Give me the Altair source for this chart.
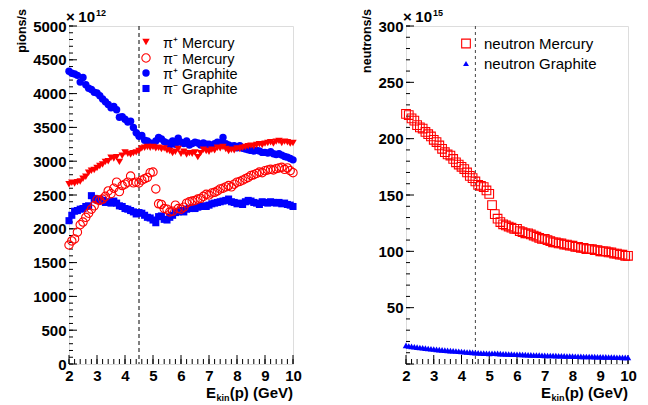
import altair as alt
import pandas as pd

FONT = "Liberation Sans"

# ---------------- data ----------------
E = [2.0, 2.1, 2.2, 2.3, 2.4, 2.5, 2.6, 2.7, 2.8, 2.9,
     3.0, 3.1, 3.2, 3.3, 3.4, 3.5, 3.6, 3.7, 3.8, 3.9,
     4.0, 4.1, 4.2, 4.3, 4.4, 4.5, 4.6, 4.7, 4.8, 4.9,
     5.0, 5.1, 5.2, 5.3, 5.4, 5.5, 5.6, 5.7, 5.8, 5.9,
     6.0, 6.1, 6.2, 6.3, 6.4, 6.5, 6.6, 6.7, 6.8, 6.9,
     7.0, 7.1, 7.2, 7.3, 7.4, 7.5, 7.6, 7.7, 7.8, 7.9,
     8.0, 8.1, 8.2, 8.3, 8.4, 8.5, 8.6, 8.7, 8.8, 8.9,
     9.0, 9.1, 9.2, 9.3, 9.4, 9.5, 9.6, 9.7, 9.8, 9.9,
     10.0]

# pions/s in units of 1e12
pip_mercury = [2660, 2680, 2670, 2690, 2700, 2740, 2770, 2830, 2860, 2870,
               2900, 2930, 2950, 2990, 3000, 3050, 3040, 3060, 2990, 3080,
               3130, 3110, 3100, 3120, 3130, 3150, 3190, 3200, 3210, 3200,
               3210, 3190, 3200, 3180, 3190, 3160, 3150, 3120, 3140, 3180,
               3110, 3140, 3100, 3120, 3110, 3130, 3060, 3120, 3170, 3150,
               3140, 3170, 3160, 3200, 3190, 3210, 3180, 3150, 3170, 3160,
               3190, 3180, 3200, 3210, 3220, 3230, 3220, 3240, 3250, 3240,
               3260, 3270, 3280, 3260, 3290, 3300, 3270, 3290, 3280, 3260,
               3270]
pim_mercury = [1760, 1820, 1850, 1950, 2060, 2100, 2170, 2230, 2290, 2340,
               2430, 2420, 2440, 2480, 2560, 2520, 2600, 2690, 2550, 2640,
               2660, 2690, 2780, 2680, 2690, 2680, 2720, 2740, 2760, 2830,
               2840, 2590, 2370, 2360, 2300, 2290, 2250, 2260, 2350, 2300,
               2290, 2320, 2380, 2400, 2410, 2420, 2440, 2450, 2480, 2510,
               2500, 2530, 2540, 2560, 2590, 2600, 2620, 2640, 2620, 2660,
               2690, 2700, 2720, 2740, 2760, 2790, 2800, 2820, 2840, 2830,
               2860, 2870, 2880, 2870, 2890, 2900, 2910, 2880, 2900, 2860,
               2830]
pip_graphite = [4330, 4300, 4290, 4270, 4170, 4240, 4130, 4080, 4060, 4020,
                4010, 3970, 3920, 3880, 3840, 3790, 3810, 3760, 3650, 3660,
                3620, 3580, 3590, 3500, 3420, 3370, 3380, 3310, 3300, 3270,
                3260, 3300, 3350, 3330, 3290, 3270, 3240, 3300, 3250, 3340,
                3280, 3260, 3300, 3240, 3260, 3280, 3270, 3240, 3270, 3250,
                3250, 3230, 3260, 3280, 3270, 3350, 3260, 3240, 3220, 3230,
                3200, 3230, 3190, 3180, 3170, 3160, 3150, 3160, 3150, 3130,
                3130, 3120, 3140, 3110, 3100, 3110, 3090, 3070, 3060, 3040,
                3020]
pim_graphite = [2120, 2200, 2260, 2270, 2290, 2300, 2330, 2340, 2490, 2450,
                2430, 2440, 2420, 2390, 2400, 2380, 2410, 2380, 2340, 2330,
                2300, 2290, 2270, 2250, 2220, 2240, 2230, 2200, 2170, 2160,
                2130, 2090, 2180, 2190, 2140, 2130, 2170, 2200, 2240, 2250,
                2270, 2250, 2290, 2300, 2310, 2300, 2320, 2330, 2340, 2330,
                2350, 2370, 2380, 2390, 2400, 2410, 2420, 2440, 2400, 2390,
                2370, 2380, 2360, 2400, 2420, 2410, 2390, 2380, 2360, 2400,
                2390, 2380, 2400, 2390, 2380, 2390, 2370, 2380, 2360, 2350,
                2330]

# neutrons/s in units of 1e15
n_mercury = [222, 221, 218, 216, 212, 210, 209, 206, 204, 202,
             199, 197, 194, 191, 188, 186, 185, 182, 179, 177,
             175, 173, 170, 167, 165, 162, 159, 158, 157, 154,
             151, 141, 133, 129, 126, 124, 123, 122, 121, 120,
             120, 118, 117, 116, 116, 115, 114, 113, 112, 111,
             111, 110, 109, 108, 108, 107, 107, 106, 106, 105,
             105, 104, 104, 103, 103, 102, 102, 102, 101, 101,
             100, 100, 100, 99, 99, 98, 98, 97, 97, 96,
             96]
n_graphite = [16.5, 16.0, 15.6, 15.3, 15.0, 14.7, 14.4, 14.1, 13.8, 13.5,
              13.3, 13.0, 12.8, 12.5, 12.3, 12.1, 11.9, 11.7, 11.5, 11.3,
              11.1, 10.9, 10.7, 10.5, 10.3, 10.1, 10.0, 9.8, 9.7, 9.6,
              9.4, 9.6, 9.5, 9.4, 9.2, 9.1, 9.0, 8.9, 8.8, 8.7,
              8.6, 8.5, 8.4, 8.3, 8.2, 8.1, 8.0, 8.0, 7.9, 7.8,
              7.7, 7.6, 7.6, 7.5, 7.4, 7.3, 7.3, 7.2, 7.1, 7.1,
              7.0, 6.9, 6.9, 6.8, 6.7, 6.7, 6.6, 6.6, 6.5, 6.4,
              6.4, 6.3, 6.3, 6.2, 6.2, 6.1, 6.0, 6.0, 5.9, 5.9,
              5.8]

X_LABELS = [2, 3, 4, 5, 6, 7, 8, 9, 10]
Y_LABELS_L = [0, 500, 1000, 1500, 2000, 2500, 3000, 3500, 4000, 4500, 5000]
Y_LABELS_R = [50, 100, 150, 200, 250, 300]
LEGEND_L = ["π⁺ Mercury", "π⁻ Mercury", "π⁺ Graphite", "π⁻ Graphite"]
LEGEND_R = ["neutron Mercury", "neutron Graphite"]
E_CUT = [4.5]

# ---------------- layout ----------------
H = 338
W_L, W_R = 224, 222
RED, BLUE = "#ff0000", "#0000ff"
xs = alt.Scale(domain=[2, 10], nice=False, zero=False)
ys_L = alt.Scale(domain=[0, 5000], nice=False, zero=False)
ys_R = alt.Scale(domain=[0, 300], nice=False, zero=False)

X_MAJ = X_LABELS
X_MIN = [2 + 0.2 * i for i in range(41)]
Y_MAJ_L = Y_LABELS_L
Y_MIN_L = [100 * i for i in range(51)]
Y_MAJ_R = [50 * i for i in range(7)]
Y_MIN_R = [10 * i for i in range(31)]

LBL = dict(labelFont=FONT, labelFontWeight="bold", labelFontSize=15,
           labelColor="black", labelFlush=False, labelOverlap=False,
           ticks=False, domain=False, grid=False, title=None, format="d")


def xenc(field):
    return alt.X(f"{field}:Q", scale=xs,
                 axis=alt.Axis(values=X_LABELS, labelPadding=4, **LBL))


def yenc(field, ys, yl):
    return alt.Y(f"{field}:Q", scale=ys,
                 axis=alt.Axis(values=yl, labelPadding=3, **LBL))


def series(vals, ys, yl, shape, color, filled, size, sw=1.0):
    df = pd.DataFrame({"E": E, "v": vals})
    return alt.Chart(df).mark_point(
        shape=shape, filled=filled, color=color, size=size,
        strokeWidth=sw, opacity=1
    ).encode(x=xenc("E"), y=yenc("v", ys, yl))


def xticks(vals, length, h):
    df = pd.DataFrame({"t": vals})
    return alt.Chart(df).mark_rule(color="black", strokeWidth=1).encode(
        x=xenc("t"), y=alt.value(h), y2=alt.value(h - length))


def yticks(vals, length, ys, yl):
    df = pd.DataFrame({"t": vals})
    return alt.Chart(df).mark_rule(color="black", strokeWidth=1).encode(
        y=yenc("t", ys, yl), x=alt.value(0), x2=alt.value(length))


def cut_line(dash, color):
    df = pd.DataFrame({"e": E_CUT})
    return alt.Chart(df).mark_rule(color=color, strokeWidth=1,
                                   strokeDash=dash).encode(x=xenc("e"))


def label(text, x, y, size, weight="normal", align="left", angle=0,
          baseline="alphabetic"):
    df = pd.DataFrame({"t": [text]})
    kw = dict(font=FONT, fontSize=size, fontWeight=weight, align=align,
              baseline=baseline, color="black")
    if angle:
        kw["angle"] = angle
    return alt.Chart(df).mark_text(**kw).encode(
        text="t:N", x=alt.value(x), y=alt.value(y))


def marker(x, y, shape, color, filled, size, sw=1.0):
    df = pd.DataFrame({"a": [0]})
    return alt.Chart(df).mark_point(
        shape=shape, filled=filled, color=color, size=size,
        strokeWidth=sw, opacity=1
    ).encode(x=alt.value(x), y=alt.value(y))


def xtitle(w):
    return [
        label("(p) (GeV)", w, H + 34, 15, "bold", align="right"),
        label("kin", w - 63.5, H + 37, 9, "bold", align="right"),
        label("E", w - 77, H + 34, 15, "bold", align="right"),
    ]


def multiplier(exp):
    return [
        label("×", -3, -4, 15, "bold"),
        label("10", 26, -4, 15, "bold", align="right"),
        label(exp, 27, -10, 9, "bold"),
    ]


# ---------------- left panel ----------------
left_layers = [
    xticks(X_MAJ, 9, H), xticks(X_MIN, 5, H),
    yticks(Y_MAJ_L, 8, ys_L, Y_LABELS_L), yticks(Y_MIN_L, 4, ys_L, Y_LABELS_L),
    cut_line([4, 3], "black"),
    series(pim_graphite, ys_L, Y_LABELS_L, "square", BLUE, True, 50),
    series(pip_graphite, ys_L, Y_LABELS_L, "circle", BLUE, True, 55),
    series(pim_mercury, ys_L, Y_LABELS_L, "circle", RED, False, 70, 1.1),
    series(pip_mercury, ys_L, Y_LABELS_L, "triangle-down", RED, True, 55),
    marker(77, 16, "triangle-down", RED, True, 55),
    marker(77, 32, "circle", RED, False, 70, 1.1),
    marker(77, 47, "circle", BLUE, True, 55),
    marker(77, 62.5, "square", BLUE, True, 50),
    label(LEGEND_L[0], 94, 21.5, 14.5),
    label(LEGEND_L[1], 94, 37.5, 14.5),
    label(LEGEND_L[2], 94, 52.5, 14.5),
    label(LEGEND_L[3], 94, 68, 14.5),
    label("pions/s", -47, -17, 12.5, "bold", align="right", angle=270,
          baseline="middle"),
] + multiplier("12") + xtitle(W_L)

left = alt.layer(*left_layers).properties(width=W_L, height=H)

# ---------------- right panel ----------------
right_layers = [
    xticks(X_MAJ, 9, H), xticks(X_MIN, 5, H),
    yticks(Y_MAJ_R, 8, ys_R, Y_LABELS_R), yticks(Y_MIN_R, 4, ys_R, Y_LABELS_R),
    cut_line([3, 3], "#444444"),
    series(n_graphite, ys_R, Y_LABELS_R, "triangle-up", BLUE, True, 42),
    series(n_mercury, ys_R, Y_LABELS_R, "square", RED, False, 75, 1.1),
    marker(60, 17.5, "square", RED, False, 75, 1.1),
    marker(60, 37.5, "triangle-up", BLUE, True, 35),
    label(LEGEND_R[0], 78, 23, 15),
    label(LEGEND_R[1], 78, 43, 15),
    label("neutrons/s", -39, -17, 12.5, "bold", align="right", angle=270,
          baseline="middle"),
] + multiplier("15") + xtitle(W_R)

right = alt.layer(*right_layers).properties(width=W_R, height=H)

chart = alt.hconcat(left, right, spacing=113, bounds="flush").properties(
    padding={"left": 7, "top": 0, "right": 0, "bottom": 0}
).configure_view(stroke="black", strokeWidth=1).configure(font=FONT)

chart.save("out.html", embed_options={"renderer": "svg", "actions": False})
